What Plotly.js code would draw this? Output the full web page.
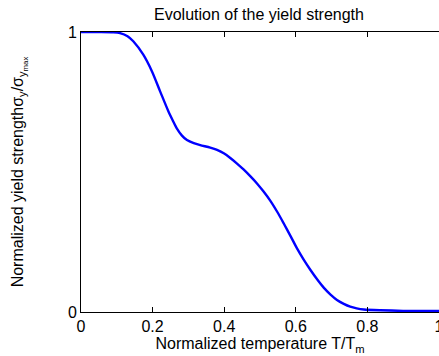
<!DOCTYPE html>
<html>
<head>
<meta charset="utf-8">
<script src="https://cdn.plot.ly/plotly-3.0.1.min.js"></script>
<style>html,body{margin:0;padding:0;background:#fff;}#chart{width:439px;height:356px;}</style>
</head>
<body>
<div id="chart"></div>
<script>
// Normalized temperature T/Tm
var temperature = [0, 0.05, 0.09, 0.109, 0.13, 0.146, 0.174, 0.198, 0.221, 0.244, 0.256, 0.268, 0.282, 0.296, 0.315, 0.333, 0.361, 0.38, 0.40, 0.417, 0.435, 0.454, 0.472, 0.491, 0.510, 0.529, 0.548, 0.566, 0.585, 0.603, 0.622, 0.641, 0.660, 0.678, 0.697, 0.715, 0.734, 0.752, 0.77, 0.79, 0.836, 0.9, 1.0];
// Normalized yield strength
var yieldStrength = [1, 1, 0.999, 0.996, 0.985, 0.967, 0.919, 0.860, 0.788, 0.717, 0.685, 0.655, 0.630, 0.614, 0.603, 0.596, 0.587, 0.579, 0.566, 0.550, 0.531, 0.509, 0.486, 0.460, 0.430, 0.397, 0.358, 0.317, 0.272, 0.228, 0.187, 0.150, 0.116, 0.087, 0.062, 0.043, 0.029, 0.019, 0.013, 0.009, 0.006, 0.004, 0.004];
var xTicks = [0, 0.2, 0.4, 0.6, 0.8, 1];
var xTickLabels = ['0', '0.2', '0.4', '0.6', '0.8', '1'];
var yTicks = [0, 1];
var yTickLabels = ['0', '1'];

var font = 'Liberation Sans, Arial, sans-serif';
var trace = {
  x: temperature, y: yieldStrength, type: 'scatter', mode: 'lines',
  line: {color: '#0000ff', width: 2.4, shape: 'spline', smoothing: 0.8},
  cliponaxis: false, hoverinfo: 'skip'
};
var axisCommon = {
  showgrid: false, zeroline: false, showline: true, linecolor: '#000', linewidth: 1,
  ticks: 'inside', ticklen: 5, tickcolor: '#000', tickwidth: 1, mirror: 'ticks',
  tickfont: {family: font, size: 16, color: '#000'}, range: [0, 1], fixedrange: true,
  ticklabeloverflow: 'allow'
};
var layout = {
  width: 439, height: 356,
  margin: {l: 81, r: 0, t: 32, b: 44},
  paper_bgcolor: '#fff', plot_bgcolor: '#fff',
  showlegend: false,
  title: {text: 'Evolution of the yield strength', font: {family: font, size: 16, color: '#000'}, x: 0.59, xanchor: 'center', y: 0.96, yanchor: 'middle'},
  xaxis: Object.assign({}, axisCommon, {tickvals: xTicks, ticktext: xTickLabels,
    title: {text: 'Normalized temperature T/T<sub>m</sub>', font: {family: font, size: 16, color: '#000'}, standoff: 1}}),
  yaxis: Object.assign({}, axisCommon, {tickvals: yTicks, ticktext: yTickLabels,
    title: {text: 'Normalized yield strength\u03c3<sub>y</sub>/\u03c3<sub>y<sub>max</sub></sub>', font: {family: font, size: 16, color: '#000'}, standoff: 40}})
};
Plotly.newPlot('chart', [trace], layout, {displayModeBar: false, staticPlot: true});
</script>
</body>
</html>
